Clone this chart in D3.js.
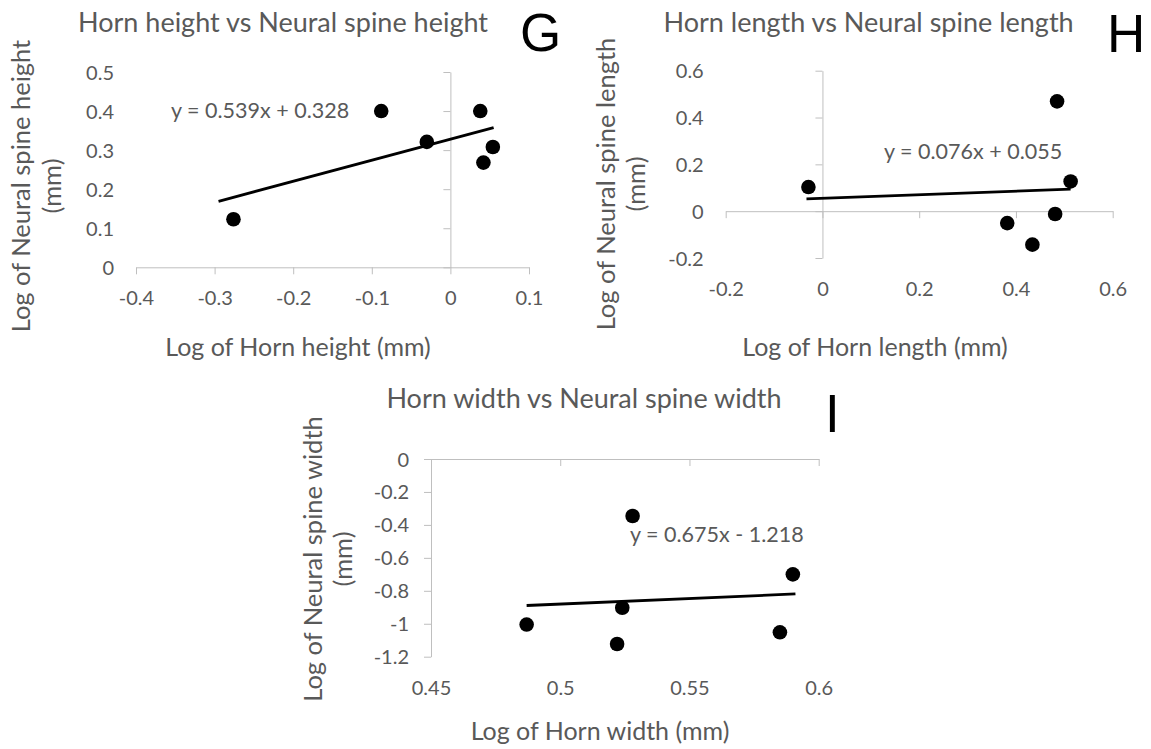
<!DOCTYPE html>
<html>
<head>
<meta charset="utf-8">
<script src="https://cdn.jsdelivr.net/npm/d3@7"></script>
<style>
  body { margin: 0; background: #fff; }
  svg text { font-family: Lato, "Open Sans", sans-serif; fill: #595959; }
  svg text.letter { font-family: "Liberation Sans", Arial, sans-serif; fill: #000; }
</style>
</head>
<body>
<svg width="1151" height="749"></svg>
<script>
// --- data ---
var gX = [-0.276, -0.088, -0.030, 0.038, 0.054, 0.042];
var gY = [0.123, 0.400, 0.321, 0.400, 0.308, 0.268];
var gFit = { slope: 0.539, intercept: 0.328, from: -0.295, to: 0.055 };
var gXTicks = [-0.4, -0.3, -0.2, -0.1, 0, 0.1];
var gYTicks = [0, 0.1, 0.2, 0.3, 0.4, 0.5];

var hX = [-0.029, 0.485, 0.513, 0.481, 0.382, 0.434];
var hY = [0.103, 0.469, 0.127, -0.012, -0.051, -0.143];
var hFit = { slope: 0.076, intercept: 0.055, from: -0.033, to: 0.513 };
var hXTicks = [-0.2, 0, 0.2, 0.4, 0.6];
var hYTicks = [-0.2, 0, 0.2, 0.4, 0.6];

var iX = [0.487, 0.522, 0.524, 0.528, 0.585, 0.590];
var iY = [-1.005, -1.123, -0.903, -0.346, -1.052, -0.700];
var iFit = { slope: 0.675, intercept: -1.218, from: 0.487, to: 0.591 };
var iXTicks = [0.45, 0.5, 0.55, 0.6];
var iYTicks = [-1.2, -1, -0.8, -0.6, -0.4, -0.2, 0];

var panels = [
  { xs: gX, ys: gY, fit: gFit, xTicks: gXTicks, yTicks: gYTicks,
    title: "Horn height vs Neural spine height", letter: "G",
    xTitle: "Log of Horn height (mm)", yTitle: ["Log of Neural spine height", "(mm)"],
    eq: "y = 0.539x + 0.328",
    xr: [136, 529], yr: [267.3, 72], xCross: 0, yCross: 0,
    titlePos: [283, 31.5], letterPos: [520, 51], xTitlePos: [298, 356],
    yTitleX: [30, 61], yTitleMid: 186, eqPos: [171, 118] },
  { xs: hX, ys: hY, fit: hFit, xTicks: hXTicks, yTicks: hYTicks,
    title: "Horn length vs Neural spine length", letter: "H",
    xTitle: "Log of Horn length (mm)", yTitle: ["Log of Neural spine length", "(mm)"],
    eq: "y = 0.076x + 0.055",
    xr: [725.7, 1112.7], yr: [258, 70.7], xCross: 0, yCross: 0,
    titlePos: [868.6, 31.5], letterPos: [1107, 52], xTitlePos: [875, 356],
    yTitleX: [614.5, 645], yTitleMid: 184, eqPos: [884, 159] },
  { xs: iX, ys: iY, fit: iFit, xTicks: iXTicks, yTicks: iYTicks,
    title: "Horn width vs Neural spine width", letter: "I",
    xTitle: "Log of Horn width (mm)", yTitle: ["Log of Neural spine width", "(mm)"],
    eq: "y = 0.675x - 1.218",
    xr: [431, 818.7], yr: [656.7, 459], xCross: 0, yCross: 0.45,
    titlePos: [584, 408], letterPos: [825, 432], xTitlePos: [600, 740],
    yTitleX: [322, 352], yTitleMid: 559, eqPos: [630, 542] }
];

var svg = d3.select("svg");
var fmt = function (d) { return String(+d.toFixed(2)); };

panels.forEach(function (p) {
  var x = d3.scaleLinear().domain(d3.extent(p.xTicks)).range(p.xr);
  var y = d3.scaleLinear().domain(d3.extent(p.yTicks)).range(p.yr);
  var g = svg.append("g");

  // axis lines with ticks, crossing at the given values
  g.append("g")
      .attr("transform", "translate(0," + y(p.xCross) + ")")
      .call(d3.axisBottom(x).tickValues(p.xTicks).tickSize(7).tickSizeOuter(0).tickFormat(""));
  g.append("g")
      .attr("transform", "translate(" + x(p.yCross) + ",0)")
      .call(d3.axisLeft(y).tickValues(p.yTicks).tickSize(7).tickSizeOuter(0).tickFormat(""));
  g.selectAll("path.domain, .tick line").attr("stroke", "#bfbfbf").attr("stroke-width", 1);

  // tick labels sit low / left, Excel style
  g.append("g")
      .attr("transform", "translate(0," + (p.yr[0] + 31) + ")")
      .call(d3.axisBottom(x).tickValues(p.xTicks).tickSize(0).tickPadding(0).tickFormat(fmt))
      .call(function (a) {
        a.select(".domain").remove();
        a.selectAll("text").attr("y", 0).attr("dy", "0.35em").style("font-size", "20px")
          .attr("fill", null).attr("font-family", null);
      });
  g.append("g")
      .attr("transform", "translate(" + (p.xr[0] - 22) + ",0)")
      .call(d3.axisLeft(y).tickValues(p.yTicks).tickSize(0).tickPadding(0).tickFormat(fmt))
      .call(function (a) {
        a.select(".domain").remove();
        a.selectAll("text").attr("x", 0).attr("dy", "0.35em").style("font-size", "20px")
          .attr("fill", null).attr("font-family", null);
      });

  // trendline
  var line = d3.line().x(function (d) { return x(d); })
      .y(function (d) { return y(p.fit.slope * d + p.fit.intercept); });
  g.append("path")
      .attr("d", line([p.fit.from, p.fit.to]))
      .attr("fill", "none").attr("stroke", "#000").attr("stroke-width", 2.8);

  // points
  g.selectAll("circle").data(d3.zip(p.xs, p.ys)).enter()
      .append("circle")
      .attr("cx", function (d) { return x(d[0]); })
      .attr("cy", function (d) { return y(d[1]); })
      .attr("r", 7.3)
      .attr("fill", "#000");

  g.append("text").attr("x", p.eqPos[0]).attr("y", p.eqPos[1])
      .style("font-size", "21.5px").text(p.eq);

  g.append("text").attr("x", p.titlePos[0]).attr("y", p.titlePos[1])
      .attr("text-anchor", "middle").style("font-size", "27px").text(p.title);
  g.append("text").attr("x", p.xTitlePos[0]).attr("y", p.xTitlePos[1])
      .attr("text-anchor", "middle").style("font-size", "25px").text(p.xTitle);
  p.yTitle.forEach(function (t, k) {
    g.append("text")
        .attr("transform", "translate(" + p.yTitleX[k] + "," + p.yTitleMid + ") rotate(-90)")
        .attr("text-anchor", "middle").style("font-size", "25.5px").text(t);
  });

  g.append("text").attr("class", "letter")
      .attr("x", p.letterPos[0]).attr("y", p.letterPos[1])
      .style("font-size", "53px").text(p.letter);
});
</script>
</body>
</html>
